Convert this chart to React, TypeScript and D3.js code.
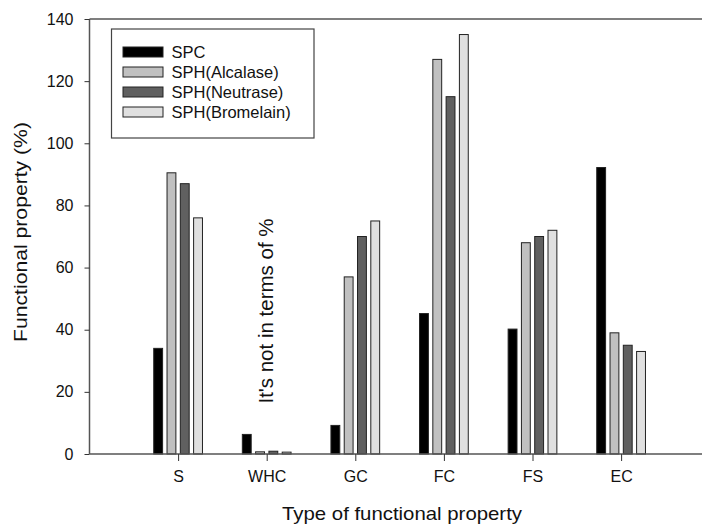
import React, { useEffect, useRef } from 'react';
import * as d3 from 'd3';

// Functional properties of SPC and its hydrolysates
const categories = ['S', 'WHC', 'GC', 'FC', 'FS', 'EC'];
const seriesNames = ['SPC', 'SPH(Alcalase)', 'SPH(Neutrase)', 'SPH(Bromelain)'];
const spcValues = [34, 6.3, 9.2, 45.2, 40.2, 92.2];
const alcalaseValues = [90.5, 0.7, 57, 127, 68, 39];
const neutraseValues = [87, 0.9, 70, 115, 70, 35];
const bromelainValues = [76, 0.6, 75, 135, 72, 33];
const yTicks = [0, 20, 40, 60, 80, 100, 120, 140];
const seriesColors = ['#000000', '#c0c0c0', '#606060', '#e0e0e0'];

const FONT = '"Liberation Sans", Arial, Helvetica, sans-serif';

export default function App() {
  const ref = useRef<HTMLDivElement>(null);

  useEffect(() => {
    document.body.style.margin = '0';
    const container = ref.current;
    if (!container) return;
    d3.select(container).selectAll('*').remove();

    const width = 702, height = 526;
    const left = 89.5, top = 19, bottom = 454;
    const series = [spcValues, alcalaseValues, neutraseValues, bromelainValues];

    const svg = d3.select(container).append('svg')
      .attr('width', width).attr('height', height)
      .style('display', 'block')
      .attr('font-family', FONT);

    const x = d3.scaleLinear().domain([0, 7]).range([left, left + 7 * 88.6]);
    const y = d3.scaleLinear().domain([0, 140]).range([bottom, top]);
    const step = 0.15, barW = 0.1;

    // Bars
    series.forEach((vals, j) => {
      svg.append('g').selectAll('rect').data(vals).enter().append('rect')
        .attr('x', (d, i) => x(i + 1 + (j - 1.5) * step - barW / 2))
        .attr('width', x(barW) - x(0))
        .attr('y', d => y(d))
        .attr('height', d => y(0) - y(d))
        .attr('fill', seriesColors[j])
        .attr('stroke', '#222')
        .attr('stroke-width', 1);
    });

    // Frame: left axis, bottom axis, top line
    const axisColor = '#555';
    svg.append('line').attr('x1', left).attr('x2', width).attr('y1', top).attr('y2', top).attr('stroke', axisColor).attr('stroke-width', 1.5);
    svg.append('line').attr('x1', left).attr('x2', width).attr('y1', bottom).attr('y2', bottom).attr('stroke', axisColor).attr('stroke-width', 1.5);
    svg.append('line').attr('x1', left).attr('x2', left).attr('y1', top).attr('y2', bottom).attr('stroke', axisColor).attr('stroke-width', 1.5);

    // Y axis
    const yAxis = d3.axisLeft(y).tickValues(yTicks).tickSize(5).tickPadding(11).tickFormat(d3.format('d'));
    const gy = svg.append('g').attr('transform', `translate(${left},0)`).call(yAxis);
    gy.select('.domain').remove();
    gy.selectAll('line').attr('stroke', '#333');
    gy.selectAll('text').attr('font-size', 16).attr('font-family', FONT).attr('fill', '#111');

    // X axis
    const xAxis = d3.axisBottom(x).tickValues(d3.range(1, 7)).tickSize(7).tickPadding(10)
      .tickFormat((d: any) => categories[Number(d) - 1]);
    const gx = svg.append('g').attr('transform', `translate(0,${bottom})`).call(xAxis);
    gx.select('.domain').remove();
    gx.selectAll('line').attr('stroke', '#333');
    gx.selectAll('text').attr('font-size', 16).attr('font-family', FONT).attr('fill', '#111');

    // Axis titles
    svg.append('text')
      .attr('x', 402).attr('y', 520)
      .attr('text-anchor', 'middle')
      .attr('font-size', 18.5)
      .attr('textLength', 240).attr('lengthAdjust', 'spacingAndGlyphs')
      .attr('fill', '#111')
      .text('Type of functional property');
    svg.append('text')
      .attr('transform', 'rotate(-90)')
      .attr('x', -232).attr('y', 27)
      .attr('text-anchor', 'middle')
      .attr('font-size', 18.5)
      .attr('textLength', 220).attr('lengthAdjust', 'spacingAndGlyphs')
      .attr('fill', '#111')
      .text('Functional property (%)');

    // Annotation above WHC
    svg.append('text')
      .attr('transform', 'rotate(-90)')
      .attr('x', -311).attr('y', 273)
      .attr('text-anchor', 'middle')
      .attr('font-size', 20.5)
      .attr('fill', '#111')
      .text("It's not in terms of %");

    // Legend
    const lg = svg.append('g');
    lg.append('rect').attr('x', 111.5).attr('y', 29).attr('width', 202.5).attr('height', 109)
      .attr('fill', '#fff').attr('stroke', '#444').attr('stroke-width', 1.2);
    seriesNames.forEach((name, j) => {
      const cy = 52 + j * 20;
      lg.append('rect').attr('x', 123).attr('y', cy - 5).attr('width', 40).attr('height', 10)
        .attr('fill', seriesColors[j]).attr('stroke', '#222').attr('stroke-width', 1);
      lg.append('text').attr('x', 171.5).attr('y', cy + 6)
        .attr('font-size', 16.5).attr('fill', '#111').text(name);
    });
  }, []);

  return <div ref={ref} style={{ width: 702, height: 526 }} />;
}
